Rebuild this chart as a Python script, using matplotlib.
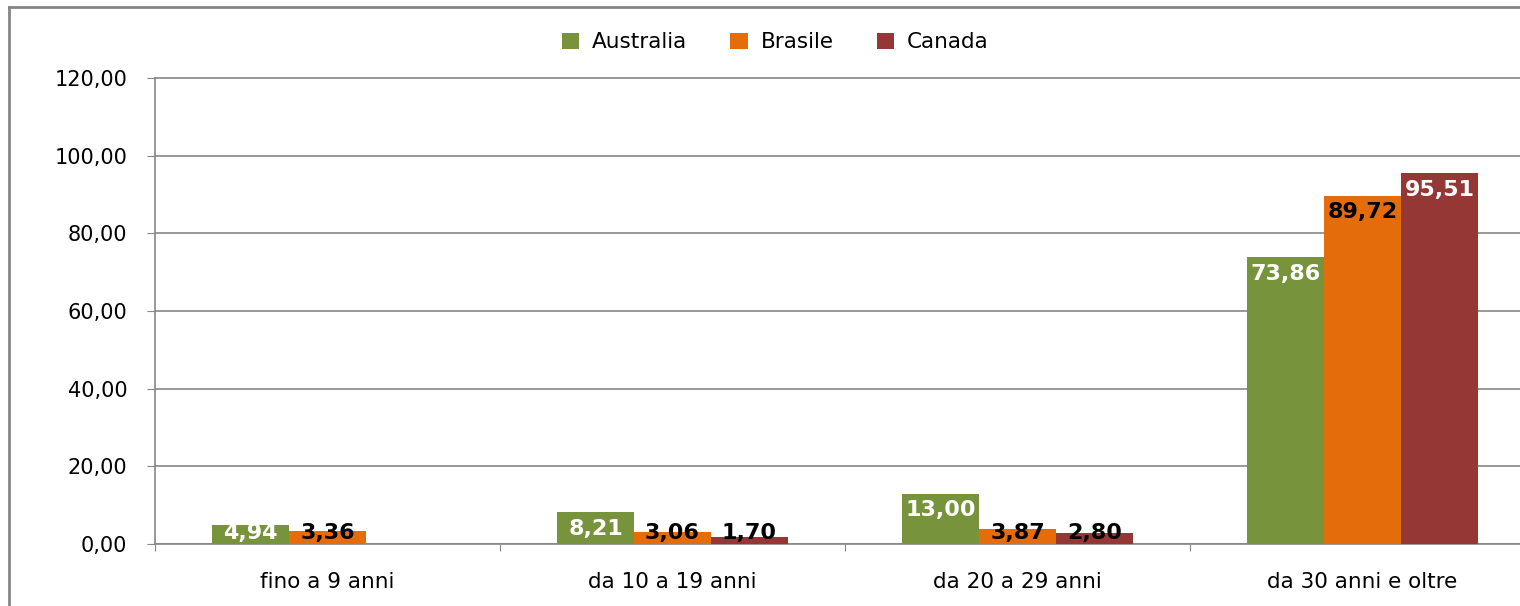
import numpy as np
from matplotlib import pyplot as plt
from matplotlib.lines import Line2D

categories = ['fino a 9 anni', 'da 10 a 19 anni', 'da 20 a 29 anni', 'da 30 anni e oltre']
series_names = ['Australia', 'Brasile', 'Canada']
australia = [4.94, 8.21, 13.00, 73.86]
brasile = [3.36, 3.06, 3.87, 89.72]
canada = [np.nan, 1.70, 2.80, 95.51]
y_ticks = [0, 20, 40, 60, 80, 100, 120]

colors = ['#77933C', '#E46C0A', '#953735']
label_colors = ['white', 'black', 'white']
grid_col = '#868686'


def fmt(v):
    return f'{v:.2f}'.replace('.', ',')


fig = plt.figure(figsize=(15.2, 6.06), dpi=100)
# plot area runs past the right edge of the picture (clipped like the original)
ax = fig.add_axes([155 / 1520, 1 - 544 / 606, 1380 / 1520, (544 - 78) / 606])

x = np.arange(len(categories))
w = 0.223
all_series = [australia, brasile, canada]
for i, (name, vals) in enumerate(zip(series_names, all_series)):
    pos = x + (i - 1) * w
    ax.bar(pos, vals, width=w, color=colors[i], label=name, zorder=3)
    for p, v in zip(pos, vals):
        if np.isnan(v):
            continue
        ty = max(v - 4.3, 2.8)
        tc = label_colors[i] if v - 4.3 > 2.8 or i == 0 else 'black'
        ax.text(p, ty, fmt(v), ha='center', va='center', fontsize=16,
                fontweight='bold', color=tc, zorder=4)

ax.set_xlim(-0.5, len(categories) - 0.5)
ax.set_ylim(0, 120)
ax.set_yticks(y_ticks)
ax.set_yticklabels([fmt(t) for t in y_ticks], fontsize=15)
ax.yaxis.grid(True, color=grid_col, linewidth=1.2, zorder=0)
ax.get_ygridlines()[-1].set_clip_on(False)

ax.set_xticks(np.arange(len(categories) + 1) - 0.5)
ax.set_xticks(x, minor=True)
ax.set_xticklabels([''] * (len(categories) + 1))
ax.set_xticklabels(categories, minor=True, fontsize=15.5)
ax.tick_params(axis='x', which='major', length=5, color=grid_col, direction='out')
ax.tick_params(axis='x', which='minor', length=0, pad=20)
ax.tick_params(axis='y', length=6, color=grid_col, pad=14)

for s in ['top', 'right']:
    ax.spines[s].set_visible(False)
for s in ['left', 'bottom']:
    ax.spines[s].set_color(grid_col)
    ax.spines[s].set_linewidth(1.2)

fig.legend(loc='center', bbox_to_anchor=(0.51, 0.93), ncol=3, frameon=False,
           fontsize=15.5, handlelength=0.8, handleheight=0.8, columnspacing=2.0,
           handletextpad=0.6)

# outer chart border (left and top edges visible)
fig.add_artist(Line2D([9 / 1520, 9 / 1520], [0, 1 - 7 / 606], transform=fig.transFigure,
                      color=grid_col, linewidth=2))
fig.add_artist(Line2D([9 / 1520, 1], [1 - 7 / 606, 1 - 7 / 606], transform=fig.transFigure,
                      color=grid_col, linewidth=2))

fig.savefig('out.png', dpi=100)
